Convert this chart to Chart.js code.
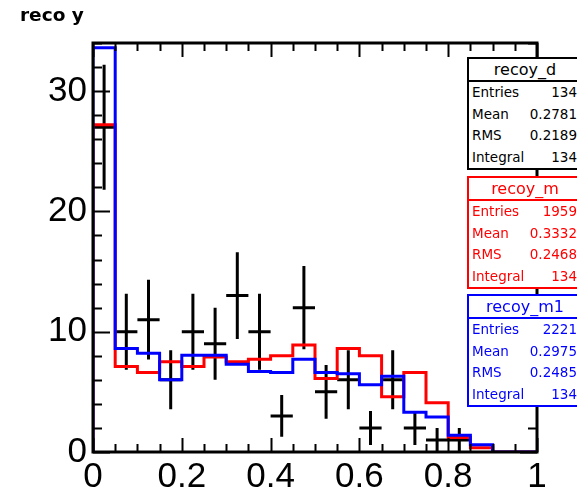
<!DOCTYPE html>
<html lang="en">
<head>
  <meta charset="UTF-8">
  <title>reco y</title>
  <style>
    html, body { margin: 0; padding: 0; background: #fff; }
    #wrap { position: relative; width: 577px; height: 496px; overflow: hidden; }
    #title { position: absolute; left: 20px; top: 5px; font: bold 18.5px/19px "DejaVu Sans", sans-serif; color: #000; }
    .stats {
      position: absolute; left: 467px; width: 116px; box-sizing: border-box;
      border: 2px solid; background: #fff; font-family: "DejaVu Sans", sans-serif;
    }
    .stats .head { height: 21px; line-height: 21px; text-align: center; font-size: 16px; border-bottom: 2px solid; }
    .stats .row { height: 21.5px; line-height: 21.5px; font-size: 13.5px; display: flex; justify-content: space-between; padding: 0 4px 0 3px; }
  </style>
</head>
<body>
<div id="wrap">
  <canvas id="histo" width="577" height="496"></canvas>
  <div id="title">reco y</div>
  <div id="boxes"></div>
</div>

<script src="https://cdn.jsdelivr.net/npm/chart.js"></script>
<script>
  // binning: 20 bins from 0 to 1
  const xMin = 0, xMax = 1, binWidth = 0.05;

  // recoy_d (data points, counts per bin)
  const dataCounts = [27, 10, 11, 6, 10, 9, 13, 10, 3, 12, 5, 6, 2, 6, 2, 1, 1, 0, 0, 0];
  // recoy_m (red), normalised to data
  const mcValues = [27.2, 7.1, 6.6, 7.5, 7.1, 7.9, 7.5, 7.7, 8.0, 8.9, 6.1, 8.6, 8.0, 4.6, 6.6, 4.1, 1.2, 0.35, 0, 0];
  // recoy_m1 (blue), normalised to data
  const mc1Values = [33.6, 8.6, 8.2, 6.0, 8.05, 8.05, 7.3, 6.7, 6.6, 7.7, 6.6, 6.5, 5.6, 6.3, 3.3, 2.9, 1.4, 0.6, 0, 0];

  // x tick labels (every 0.2) and y tick labels (every 10)
  const xTickLabels = ["0", "0.2", "0.4", "0.6", "0.8", "1"];
  const yTickLabels = ["0", "10", "20", "30"];

  // stat boxes
  const statNames = ["recoy_d", "recoy_m", "recoy_m1"];
  const statColors = ["#000000", "#ff0000", "#0000ff"];
  const statTops = [57, 176, 294];
  const statRows = ["Entries", "Mean", "RMS", "Integral"];
  const statEntries = ["134", "1959", "2221"];
  const statMeans = ["0.2781", "0.3332", "0.2975"];
  const statRMS = ["0.2189", "0.2468", "0.2485"];
  const statIntegrals = ["134", "134", "134"];

  const boxes = document.getElementById("boxes");
  statNames.forEach((name, i) => {
    const box = document.createElement("div");
    box.className = "stats";
    box.style.top = statTops[i] + "px";
    box.style.color = statColors[i];
    box.style.borderColor = statColors[i];
    const head = document.createElement("div");
    head.className = "head";
    head.style.borderColor = statColors[i];
    head.textContent = name;
    box.appendChild(head);
    const vals = [statEntries[i], statMeans[i], statRMS[i], statIntegrals[i]];
    statRows.forEach((r, j) => {
      const row = document.createElement("div");
      row.className = "row";
      const a = document.createElement("span");
      a.textContent = r;
      const b = document.createElement("span");
      b.textContent = vals[j];
      row.appendChild(a);
      row.appendChild(b);
      box.appendChild(row);
    });
    boxes.appendChild(box);
  });

  // step outline: one point per left bin edge, plus the closing right edge
  function histPoints(vals) {
    const pts = [{x: xMin, y: 0}];
    vals.forEach((v, i) => pts.push({x: xMin + i * binWidth, y: v}));
    pts.push({x: xMax, y: vals[vals.length - 1]});
    return pts;
  }

  // error bars as line segments separated by gaps
  function errorPoints(counts) {
    const pts = [];
    counts.forEach((n, i) => {
      if (n <= 0) return;
      const c = xMin + (i + 0.5) * binWidth;
      const e = Math.sqrt(n);
      pts.push({x: c, y: n - e}, {x: c, y: n + e}, {x: c, y: null});
      pts.push({x: c - binWidth / 2, y: n}, {x: c + binWidth / 2, y: n}, {x: c, y: null});
    });
    return pts;
  }

  const near = (v, step) => Math.abs(v / step - Math.round(v / step)) < 1e-6;

  // ROOT-like frame with inward ticks on all four sides
  const frameTicks = {
    id: 'frameTicks',
    afterDatasetsDraw(chart) {
      const {ctx, chartArea: a, scales: {x, y}} = chart;
      ctx.save();
      ctx.strokeStyle = '#000';
      ctx.lineWidth = 2;
      ctx.beginPath();
      x.ticks.forEach(t => {
        const px = Math.round(x.getPixelForValue(t.value)) + 0.5;
        const len = near(t.value, 0.2) ? 14 : 8;
        ctx.moveTo(px, a.bottom); ctx.lineTo(px, a.bottom - len);
        ctx.moveTo(px, a.top); ctx.lineTo(px, a.top + len);
      });
      y.ticks.forEach(t => {
        const py = Math.round(y.getPixelForValue(t.value)) + 0.5;
        const len = near(t.value, 10) ? 17 : 9;
        ctx.moveTo(a.left, py); ctx.lineTo(a.left + len, py);
        ctx.moveTo(a.right, py); ctx.lineTo(a.right - len, py);
      });
      ctx.stroke();
      ctx.lineWidth = 3;
      ctx.strokeRect(a.left, a.top, a.right - a.left, a.bottom - a.top);
      ctx.restore();
    }
  };

  const ctx = document.getElementById('histo').getContext('2d');
  new Chart(ctx, {
    type: 'line',
    data: {
      datasets: [
        {
          label: 'recoy_m1',
          data: histPoints(mc1Values),
          stepped: 'before',
          borderColor: '#0000ff',
          borderWidth: 3,
          pointRadius: 0,
          fill: false,
          order: 0
        },
        {
          label: 'recoy_m',
          data: histPoints(mcValues),
          stepped: 'before',
          borderColor: '#ff0000',
          borderWidth: 3,
          pointRadius: 0,
          fill: false,
          order: 1
        },
        {
          label: 'recoy_d',
          data: errorPoints(dataCounts),
          borderColor: '#000000',
          borderWidth: 3,
          pointRadius: 0,
          spanGaps: false,
          fill: false,
          order: 2
        }
      ]
    },
    options: {
      responsive: false,
      animation: false,
      devicePixelRatio: 1,
      layout: { padding: { left: 0, top: 43, right: 40, bottom: 0 } },
      plugins: { legend: { display: false }, tooltip: { enabled: false } },
      scales: {
        x: {
          type: 'linear',
          min: xMin,
          max: xMax,
          grid: { display: false, drawTicks: false },
          border: { display: false },
          afterFit: s => { s.height = 44; },
          ticks: {
            stepSize: 0.05,
            autoSkip: false,
            maxRotation: 0,
            padding: 4,
            color: '#000',
            font: { family: 'Liberation Sans', size: 35 },
            callback: v => near(v, 0.2) ? xTickLabels[Math.round(v / 0.2)] : ''
          }
        },
        y: {
          min: 0,
          max: 34,
          grid: { display: false, drawTicks: false },
          border: { display: false },
          afterFit: s => { s.width = 93; },
          ticks: {
            stepSize: 2,
            autoSkip: false,
            padding: 6,
            color: '#000',
            font: { family: 'Liberation Sans', size: 35 },
            callback: v => near(v, 10) ? yTickLabels[Math.round(v / 10)] : ''
          }
        }
      }
    },
    plugins: [frameTicks]
  });
</script>
</body>
</html>
